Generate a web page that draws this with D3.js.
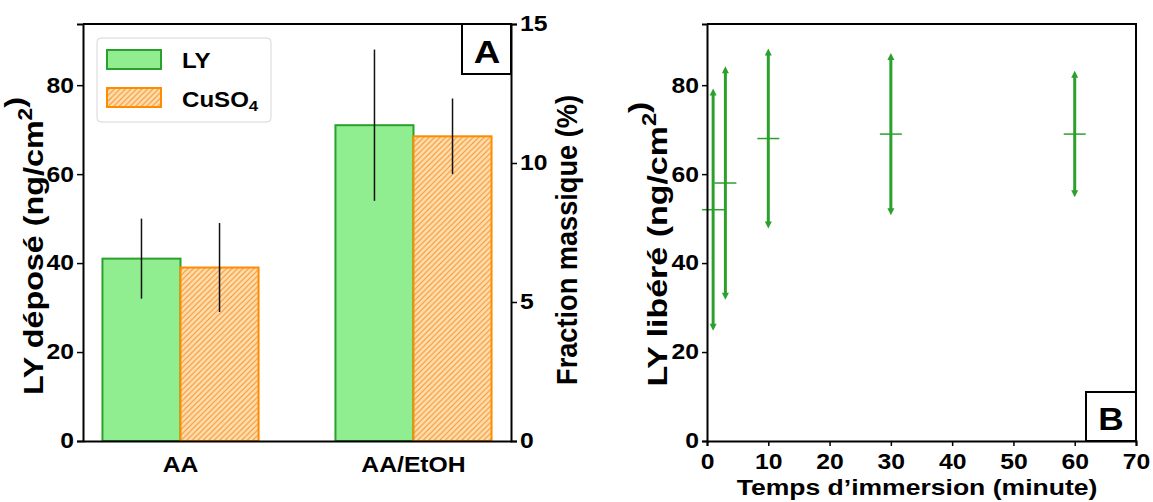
<!DOCTYPE html>
<html lang="fr">
<head>
<meta charset="utf-8">
<script src="https://d3js.org/d3.v7.min.js"></script>
<style>
  body { margin: 0; background: #fff; }
  svg text { font-family: "Liberation Sans", Arial, sans-serif; font-weight: bold; fill: #000; }
</style>
</head>
<body>
<div id="chart"></div>
<script>
"use strict"
// panneau A : LY déposé
var categoriesA = ["AA", "AA/EtOH"];
var seriesA = ["LY", "CuSO4"];
var lyMoyennes = [41, 71];
var lyErreurs = [9, 17];
var cuMoyennes = [39, 68.5];
var cuErreurs = [10, 8.5];
var ticksGaucheA = [0, 20, 40, 60, 80];
var ticksDroiteA = [0, 5, 10, 15];

// panneau B : LY libéré en fonction du temps
var tempsB = [1, 3, 10, 30, 60];
var moyennesB = [52, 58, 68, 69, 69];
var erreursB = [27, 26, 20, 18, 14];
var ticksXB = [0, 10, 20, 30, 40, 50, 60, 70];
var ticksYB = [0, 20, 40, 60, 80];

var largeurSVG = 1153, hauteurSVG = 502;
var svg = d3.select("#chart").append("svg")
    .attr("width", largeurSVG)
    .attr("height", hauteurSVG);

var defs = svg.append("defs");
var motif = defs.append("pattern")
    .attr("id", "hachures")
    .attr("patternUnits", "userSpaceOnUse")
    .attr("width", 5.5).attr("height", 5.5);
motif.append("rect").attr("width", 5.5).attr("height", 5.5).attr("fill", "#fedeae");
motif.append("path")
    .attr("d", "M0,5.5 L5.5,0 M-1,1 L1,-1 M4.5,6.5 L6.5,4.5")
    .attr("stroke", "#f7902a").attr("stroke-width", 1.1);

var haut = 24, bas = 441;
var yMax = 93.75;
var tailleTicks = 21.5;
var etirement = 1.15;   // la figure d'origine est un peu élargie

function texteIndice(sel, base, indice, sup) {
  sel.append("tspan").text(base);
  sel.append("tspan")
      .attr("font-size", "0.7em")
      .attr("dy", sup ? "-0.55em" : "0.25em")
      .text(indice);
}

// texte horizontal élargi
function texte(parent, x, y, taille, sx) {
  return parent.append("text")
      .attr("transform", "translate(" + x + "," + y + ") scale(" + sx + ",1)")
      .attr("font-size", taille);
}

// texte vertical, ajusté à une longueur donnée
function texteVertical(t, x, y, longueur) {
  var l = t.node().getComputedTextLength();
  t.attr("text-anchor", "middle")
   .attr("transform", "translate(" + x + "," + y + ") rotate(-90) scale(" + (longueur / l) + ",1)");
}

function styleAxe(a, decalage) {
  a.select(".domain").attr("stroke-width", 2).attr("stroke", "#000");
  a.selectAll(".tick line").attr("stroke-width", 1.5).attr("stroke", "#000");
  a.selectAll("text")
      .attr("font-size", tailleTicks).attr("font-family", null)
      .attr("transform", "scale(" + etirement + ",1)");
  if (decalage) a.selectAll("text").attr("x", decalage / etirement);
}

/*
 * Panneau A
 */
var gA = svg.append("g");
var xA = d3.scaleBand().domain(categoriesA).range([83, 511])
    .paddingInner(0.33).paddingOuter(0.0835);
var xSerie = d3.scaleBand().domain(seriesA).range([0, xA.bandwidth()]);
var yA = d3.scaleLinear().domain([0, yMax]).range([bas, haut]);
var yDroite = d3.scaleLinear().domain([0, 15]).range([bas, haut]);

var donneesA = [];
categoriesA.forEach(function (c, i) {
  donneesA.push({cat: c, serie: "LY", val: lyMoyennes[i], err: lyErreurs[i]});
  donneesA.push({cat: c, serie: "CuSO4", val: cuMoyennes[i], err: cuErreurs[i]});
});

gA.selectAll("rect.barre")
  .data(donneesA)
  .enter().append("rect")
    .attr("class", "barre")
    .attr("x", d => xA(d.cat) + xSerie(d.serie))
    .attr("y", d => yA(d.val))
    .attr("width", xSerie.bandwidth())
    .attr("height", d => yA(0) - yA(d.val))
    .attr("fill", d => d.serie == "LY" ? "#90ee90" : "url(#hachures)")
    .attr("stroke", d => d.serie == "LY" ? "#2ca02c" : "#ff8c00")
    .attr("stroke-width", 2);

gA.selectAll("line.erreur")
  .data(donneesA)
  .enter().append("line")
    .attr("class", "erreur")
    .attr("x1", d => xA(d.cat) + xSerie(d.serie) + xSerie.bandwidth() / 2)
    .attr("x2", d => xA(d.cat) + xSerie(d.serie) + xSerie.bandwidth() / 2)
    .attr("y1", d => yA(d.val - d.err))
    .attr("y2", d => yA(d.val + d.err))
    .attr("stroke", "#111").attr("stroke-width", 1.5);

// axes
var axeGauche = gA.append("g").attr("transform", "translate(83,0)")
    .call(d3.axisLeft(yA).tickValues(ticksGaucheA).tickSize(6).tickPadding(3));
var axeDroite = gA.append("g").attr("transform", "translate(511,0)")
    .call(d3.axisRight(yDroite).tickValues(ticksDroiteA).tickSize(6).tickPadding(3));
var axeBasA = gA.append("g").attr("transform", "translate(0," + bas + ")")
    .call(d3.axisBottom(xA).tickSize(0).tickPadding(16));
gA.append("line").attr("x1", 83).attr("x2", 511).attr("y1", haut).attr("y2", haut)
    .attr("stroke", "#000").attr("stroke-width", 2);
styleAxe(axeGauche, -9);
styleAxe(axeDroite, 9);
styleAxe(axeBasA);

var labelGaucheA = gA.append("text").attr("font-size", 28)
    .call(texteIndice, "LY déposé (ng/cm", "2", true);
labelGaucheA.append("tspan").attr("dy", "-0.3em").text(")");
texteVertical(labelGaucheA, 43, 246, 298);

var labelDroiteA = gA.append("text").attr("font-size", 29)
    .text("Fraction massique (%)");
texteVertical(labelDroiteA, 577, 240, 290);

// légende
var legende = gA.append("g");
legende.append("rect")
    .attr("x", 97).attr("y", 38).attr("width", 174).attr("height", 84)
    .attr("rx", 4).attr("fill", "#fff").attr("stroke", "#d6d6d6");
seriesA.forEach(function (s, i) {
  legende.append("rect")
      .attr("x", 107).attr("y", 50 + i * 38).attr("width", 54).attr("height", 19)
      .attr("fill", s == "LY" ? "#90ee90" : "url(#hachures)")
      .attr("stroke", s == "LY" ? "#2ca02c" : "#ff8c00").attr("stroke-width", 2);
  var t = texte(legende, 182, 68 + i * 39, 21.5, 1.12);
  if (s == "LY") t.text("LY");
  else t.call(texteIndice, "CuSO", "4", false);
});

gA.append("rect").attr("x", 462).attr("y", haut).attr("width", 49).attr("height", 50)
    .attr("fill", "#fff").attr("stroke", "#000").attr("stroke-width", 2);
texte(gA, 487, 63, 32, 1.15).attr("text-anchor", "middle").text("A");

/*
 * Panneau B
 */
var gB = svg.append("g");
var xB = d3.scaleLinear().domain([0, 70]).range([707, 1136]);
var yB = d3.scaleLinear().domain([0, yMax]).range([bas, haut]);
var vert = "#2ca02c";

var donneesB = tempsB.map((t, i) => ({t: t, m: moyennesB[i], e: erreursB[i]}));

gB.selectAll("line.barreB")
  .data(donneesB)
  .enter().append("line")
    .attr("class", "barreB")
    .attr("x1", d => xB(d.t)).attr("x2", d => xB(d.t))
    .attr("y1", d => yB(d.m - d.e) - 4).attr("y2", d => yB(d.m + d.e) + 4)
    .attr("stroke", vert).attr("stroke-width", 3);

// flèches en haut et en bas
gB.selectAll("path.flecheHaut")
  .data(donneesB)
  .enter().append("path")
    .attr("d", d => {
      var x = xB(d.t), y = yB(d.m + d.e);
      return "M" + x + "," + (y - 1) + " L" + (x - 3.5) + "," + (y + 6) + " L" + (x + 3.5) + "," + (y + 6) + "Z";
    })
    .attr("fill", vert);
gB.selectAll("path.flecheBas")
  .data(donneesB)
  .enter().append("path")
    .attr("d", d => {
      var x = xB(d.t), y = yB(d.m - d.e);
      return "M" + x + "," + (y + 1) + " L" + (x - 3.5) + "," + (y - 6) + " L" + (x + 3.5) + "," + (y - 6) + "Z";
    })
    .attr("fill", vert);

gB.selectAll("line.moyenne")
  .data(donneesB)
  .enter().append("line")
    .attr("class", "moyenne")
    .attr("x1", d => xB(d.t) - 11).attr("x2", d => xB(d.t) + 11)
    .attr("y1", d => yB(d.m)).attr("y2", d => yB(d.m))
    .attr("stroke", vert).attr("stroke-width", 1.5);

var axeGaucheB = gB.append("g").attr("transform", "translate(707,0)")
    .call(d3.axisLeft(yB).tickValues(ticksYB).tickSize(5).tickPadding(3));
var axeBasB = gB.append("g").attr("transform", "translate(0," + bas + ")")
    .call(d3.axisBottom(xB).tickValues(ticksXB).tickSize(5).tickPadding(8));
styleAxe(axeGaucheB, -8);
styleAxe(axeBasB);
gB.append("path")
    .attr("d", "M707," + haut + " H1136 V" + bas)
    .attr("fill", "none").attr("stroke", "#000").attr("stroke-width", 2);

var labelB = gB.append("text").attr("font-size", 28)
    .call(texteIndice, "LY libéré (ng/cm", "2", true);
labelB.append("tspan").attr("dy", "-0.3em").text(")");
texteVertical(labelB, 667, 244, 285);

texte(gB, 917, 495, 22.5, 1.18).attr("text-anchor", "middle")
    .text("Temps d’immersion (minute)");

gB.append("rect").attr("x", 1086).attr("y", 392).attr("width", 50).attr("height", 49)
    .attr("fill", "#fff").attr("stroke", "#000").attr("stroke-width", 2);
texte(gB, 1111, 430, 32, 1.1).attr("text-anchor", "middle").text("B");
</script>
</body>
</html>
